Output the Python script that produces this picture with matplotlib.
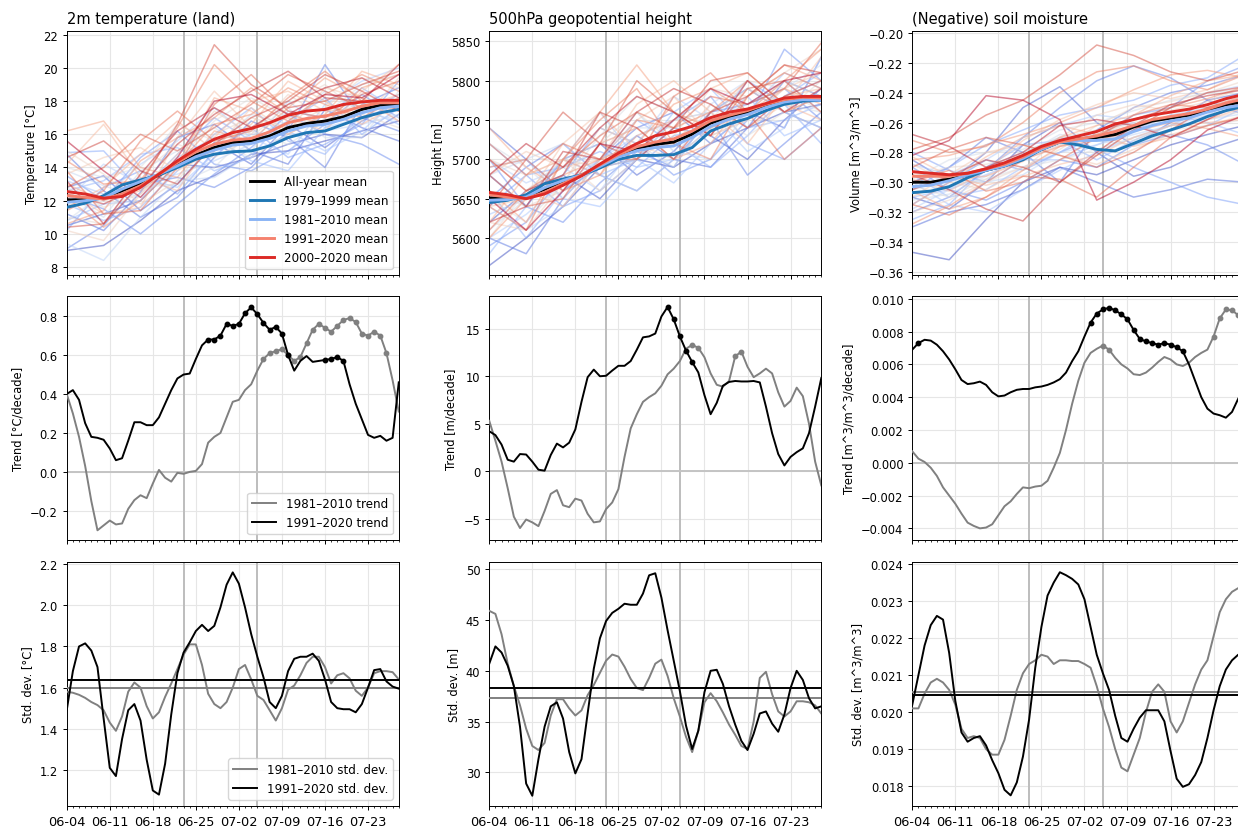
import datetime as dt
import numpy as np
import matplotlib
matplotlib.use("Agg")
import matplotlib.pyplot as plt
from matplotlib.ticker import MultipleLocator, FuncFormatter

# ---------------------------------------------------------------- data
start_date = dt.date(2021, 6, 4)
days = np.arange(55)              # daily values, 06-04 .. 07-28
days_mean = np.arange(0, 55, 3)   # climatological means, every 3rd day
days_year = np.arange(0, 55, 6)   # individual years, every 6th day
years = np.arange(1979, 2021)
marked_days = [19, 31]            # 06-23 and 07-05

# --- 2m temperature (land), individual years [°C]
t2m_years = [
    [9.0, 9.3, 10.8, 12.6, 13.5, 14.8, 15.0, 15.6, 16.2, 16.8],
    [10.5, 11.2, 12.0, 14.2, 14.0, 14.6, 15.4, 16.0, 15.8, 17.2],
    [12.8, 13.5, 11.4, 13.0, 15.5, 14.2, 16.6, 15.2, 16.8, 18.0],
    [11.2, 10.2, 12.5, 15.8, 16.6, 15.0, 14.2, 17.5, 16.4, 15.6],
    [14.8, 12.6, 11.0, 12.2, 14.6, 16.8, 15.8, 14.0, 17.8, 18.8],
    [9.1, 10.5, 13.0, 13.4, 12.8, 14.0, 16.2, 20.2, 17.0, 16.2],
    [12.3, 11.5, 10.0, 11.8, 13.6, 15.2, 17.2, 16.0, 15.4, 14.2],
    [13.5, 12.0, 14.6, 16.2, 14.2, 13.8, 15.0, 16.6, 18.4, 17.0],
    [10.2, 12.8, 13.8, 12.4, 15.0, 16.4, 14.6, 15.4, 16.6, 19.2],
    [14.9, 15.0, 12.6, 14.8, 17.0, 15.6, 16.8, 18.2, 16.0, 17.6],
    [11.8, 10.8, 11.6, 13.8, 16.0, 17.6, 15.6, 14.8, 17.2, 18.4],
    [12.6, 13.2, 14.8, 15.2, 13.8, 14.6, 17.4, 17.0, 18.8, 17.4],
    [10.8, 11.8, 12.0, 14.6, 15.8, 14.4, 13.8, 16.4, 17.6, 16.6],
    [13.2, 12.4, 13.4, 12.8, 14.8, 16.0, 16.2, 15.0, 16.2, 18.2],
    [11.5, 12.2, 14.2, 15.6, 17.6, 15.8, 14.8, 17.8, 19.2, 20.0],
    [12.0, 14.2, 13.0, 13.6, 14.4, 15.4, 18.0, 16.4, 17.0, 17.8],
    [9.4, 8.4, 11.0, 13.2, 13.4, 14.8, 16.0, 16.2, 16.6, 17.2],
    [13.8, 12.9, 12.2, 14.0, 15.2, 17.2, 16.6, 18.6, 17.4, 16.8],
    [12.4, 11.0, 13.8, 15.0, 16.4, 15.0, 17.6, 15.8, 15.8, 18.6],
    [10.8, 12.4, 12.8, 13.0, 14.0, 16.2, 15.4, 16.8, 18.0, 17.0],
    [14.0, 13.4, 14.0, 16.6, 15.6, 14.6, 16.0, 17.2, 19.0, 19.6],
    [12.8, 11.6, 12.4, 14.4, 16.8, 18.2, 17.0, 16.6, 17.8, 18.0],
    [11.0, 10.6, 13.6, 15.4, 14.6, 15.8, 17.8, 19.0, 17.2, 16.4],
    [15.0, 13.6, 11.8, 13.2, 16.0, 17.0, 16.4, 17.6, 19.4, 18.8],
    [10.2, 9.6, 12.4, 14.8, 17.4, 16.0, 18.4, 17.0, 16.8, 19.4],
    [13.6, 14.6, 15.2, 13.8, 15.0, 17.6, 16.2, 18.8, 18.2, 17.4],
    [12.6, 11.2, 11.6, 15.8, 18.6, 16.4, 17.0, 16.2, 18.6, 20.2],
    [14.2, 16.6, 13.4, 12.6, 15.8, 18.0, 18.6, 17.4, 17.6, 18.4],
    [11.6, 12.8, 14.8, 16.8, 15.0, 16.6, 19.2, 18.0, 16.6, 17.8],
    [13.0, 12.0, 12.6, 14.2, 18.2, 17.4, 16.0, 17.2, 19.8, 19.0],
    [16.2, 16.8, 14.0, 13.4, 16.2, 15.6, 17.6, 19.4, 18.2, 16.8],
    [10.6, 11.4, 14.4, 15.8, 17.0, 18.8, 17.2, 16.6, 18.8, 19.6],
    [12.2, 10.4, 12.0, 14.2, 16.6, 17.2, 18.8, 17.8, 17.0, 18.2],
    [14.4, 13.0, 13.2, 16.4, 20.2, 18.0, 16.8, 18.4, 19.6, 18.6],
    [11.4, 12.6, 15.6, 17.4, 15.6, 16.2, 18.2, 19.8, 18.0, 17.6],
    [13.8, 11.2, 11.4, 14.0, 17.8, 19.6, 17.4, 17.0, 18.4, 19.2],
    [12.8, 14.0, 16.0, 15.0, 16.4, 17.8, 19.6, 18.6, 17.6, 18.0],
    [10.4, 10.6, 13.0, 16.6, 21.4, 19.0, 17.6, 18.0, 19.0, 19.8],
    [14.6, 15.6, 13.8, 13.0, 15.4, 17.0, 18.0, 19.6, 18.6, 17.4],
    [12.4, 11.8, 12.8, 15.4, 17.2, 18.6, 19.8, 18.2, 18.0, 20.2],
    [13.2, 10.6, 13.6, 16.2, 17.6, 16.4, 17.8, 18.8, 19.4, 18.2],
    [15.6, 13.8, 12.2, 14.6, 18.0, 18.4, 17.2, 18.4, 18.2, 19.6],
]
t2m_mean_all = [12.05, 12.05, 12.15, 12.6, 13.05, 13.55, 14.15, 14.75, 15.2, 15.5,
                15.6, 15.9, 16.4, 16.65, 16.8, 17.05, 17.5, 17.75, 17.75]
t2m_mean_7999 = [11.6, 11.85, 12.3, 12.95, 13.25, 13.55, 14.0, 14.5, 14.8, 14.95,
                 15.0, 15.3, 15.8, 16.1, 16.2, 16.6, 17.0, 17.3, 17.5]
t2m_mean_8110 = [11.9, 12.0, 12.15, 12.7, 13.15, 13.6, 14.1, 14.65, 15.05, 15.35,
                 15.45, 15.75, 16.2, 16.5, 16.6, 16.9, 17.3, 17.6, 17.7]
t2m_mean_9120 = [12.3, 12.2, 12.1, 12.4, 12.9, 13.6, 14.3, 14.95, 15.4, 15.65,
                 15.75, 16.15, 16.7, 16.95, 17.1, 17.35, 17.7, 17.9, 17.9]
t2m_mean_0020 = [12.55, 12.4, 12.15, 12.25, 12.8, 13.6, 14.4, 15.1, 15.7, 16.1,
                 16.35, 16.7, 17.15, 17.4, 17.5, 17.8, 17.95, 18.05, 18.05]

# --- 500hPa geopotential height, individual years [m]
z500_years = [
    [5565, 5600, 5640, 5690, 5700, 5690, 5720, 5740, 5760, 5770],
    [5620, 5660, 5680, 5650, 5700, 5740, 5730, 5700, 5750, 5790],
    [5680, 5640, 5700, 5720, 5680, 5710, 5760, 5790, 5760, 5740],
    [5740, 5700, 5660, 5690, 5730, 5700, 5690, 5740, 5800, 5780],
    [5600, 5580, 5650, 5700, 5740, 5760, 5720, 5760, 5740, 5830],
    [5650, 5690, 5720, 5680, 5660, 5700, 5750, 5680, 5720, 5760],
    [5700, 5640, 5620, 5670, 5710, 5690, 5760, 5770, 5790, 5750],
    [5590, 5620, 5680, 5740, 5720, 5680, 5700, 5750, 5840, 5800],
    [5640, 5680, 5640, 5660, 5700, 5750, 5780, 5720, 5700, 5740],
    [5720, 5680, 5690, 5710, 5690, 5730, 5740, 5800, 5770, 5720],
    [5660, 5600, 5660, 5700, 5750, 5720, 5690, 5730, 5780, 5810],
    [5580, 5640, 5700, 5680, 5700, 5760, 5790, 5740, 5750, 5770],
    [5690, 5700, 5650, 5640, 5690, 5700, 5740, 5780, 5730, 5750],
    [5630, 5650, 5700, 5760, 5700, 5670, 5720, 5760, 5810, 5790],
    [5600, 5630, 5670, 5700, 5730, 5750, 5760, 5710, 5740, 5830],
    [5700, 5670, 5690, 5660, 5720, 5780, 5750, 5770, 5800, 5760],
    [5640, 5610, 5640, 5700, 5760, 5710, 5700, 5760, 5780, 5800],
    [5680, 5700, 5720, 5680, 5660, 5700, 5770, 5800, 5760, 5740],
    [5610, 5650, 5700, 5720, 5740, 5740, 5730, 5750, 5790, 5820],
    [5720, 5690, 5650, 5700, 5720, 5690, 5760, 5790, 5770, 5760],
    [5650, 5620, 5670, 5730, 5780, 5760, 5740, 5760, 5800, 5780],
    [5600, 5660, 5700, 5690, 5700, 5750, 5760, 5730, 5760, 5800],
    [5660, 5640, 5660, 5720, 5760, 5720, 5750, 5800, 5790, 5760],
    [5700, 5680, 5700, 5660, 5700, 5730, 5790, 5780, 5810, 5840],
    [5620, 5610, 5670, 5740, 5720, 5700, 5740, 5790, 5760, 5780],
    [5680, 5710, 5690, 5700, 5750, 5780, 5730, 5750, 5790, 5810],
    [5640, 5650, 5720, 5760, 5710, 5720, 5770, 5740, 5770, 5830],
    [5700, 5660, 5640, 5700, 5770, 5800, 5760, 5720, 5780, 5790],
    [5620, 5680, 5700, 5680, 5730, 5750, 5790, 5810, 5770, 5750],
    [5740, 5690, 5660, 5720, 5740, 5700, 5720, 5780, 5820, 5800],
    [5660, 5620, 5700, 5760, 5820, 5760, 5740, 5760, 5790, 5770],
    [5600, 5650, 5680, 5700, 5720, 5770, 5790, 5760, 5800, 5840],
    [5690, 5700, 5660, 5680, 5750, 5740, 5760, 5800, 5760, 5780],
    [5640, 5610, 5700, 5750, 5790, 5720, 5700, 5780, 5810, 5790],
    [5720, 5680, 5720, 5700, 5700, 5780, 5810, 5760, 5700, 5740],
    [5610, 5660, 5690, 5730, 5760, 5740, 5780, 5770, 5790, 5848],
    [5680, 5640, 5650, 5720, 5800, 5760, 5730, 5790, 5800, 5760],
    [5640, 5700, 5760, 5720, 5700, 5740, 5800, 5810, 5770, 5780],
    [5700, 5660, 5680, 5760, 5740, 5700, 5760, 5780, 5820, 5810],
    [5620, 5640, 5710, 5700, 5760, 5790, 5770, 5740, 5780, 5800],
    [5680, 5720, 5690, 5740, 5780, 5760, 5730, 5800, 5760, 5790],
    [5650, 5610, 5660, 5720, 5710, 5750, 5790, 5770, 5800, 5810],
]
z500_mean_all = [5651, 5650, 5652, 5662, 5672, 5680, 5692, 5705, 5714, 5719,
                 5722, 5732, 5746, 5754, 5760, 5768, 5775, 5778, 5777]
z500_mean_7999 = [5645, 5648, 5655, 5669, 5675, 5680, 5689, 5700, 5705, 5705,
                  5706, 5715, 5736, 5745, 5752, 5762, 5770, 5774, 5775]
z500_mean_8110 = [5648, 5649, 5652, 5664, 5673, 5680, 5691, 5703, 5711, 5715,
                  5717, 5728, 5742, 5751, 5757, 5766, 5773, 5776, 5775]
z500_mean_9120 = [5655, 5652, 5650, 5658, 5669, 5680, 5693, 5706, 5716, 5722,
                  5726, 5736, 5749, 5756, 5762, 5770, 5776, 5779, 5778]
z500_mean_0020 = [5658, 5655, 5650, 5656, 5667, 5679, 5694, 5708, 5720, 5730,
                  5735, 5742, 5753, 5760, 5764, 5771, 5778, 5780, 5780]

# --- (negative) soil moisture, individual years [m^3/m^3]
swvl_years = [
    [-0.347, -0.352, -0.325, -0.300, -0.290, -0.295, -0.285, -0.275, -0.268, -0.262],
    [-0.310, -0.318, -0.300, -0.275, -0.260, -0.280, -0.296, -0.290, -0.278, -0.270],
    [-0.285, -0.300, -0.280, -0.250, -0.236, -0.260, -0.275, -0.260, -0.245, -0.240],
    [-0.330, -0.320, -0.315, -0.305, -0.290, -0.300, -0.310, -0.305, -0.298, -0.300],
    [-0.300, -0.290, -0.270, -0.280, -0.300, -0.265, -0.250, -0.240, -0.235, -0.228],
    [-0.320, -0.310, -0.292, -0.270, -0.250, -0.232, -0.222, -0.230, -0.245, -0.255],
    [-0.290, -0.305, -0.312, -0.300, -0.285, -0.290, -0.275, -0.268, -0.275, -0.288],
    [-0.315, -0.300, -0.285, -0.292, -0.280, -0.270, -0.255, -0.250, -0.232, -0.222],
    [-0.280, -0.292, -0.300, -0.285, -0.270, -0.278, -0.290, -0.300, -0.310, -0.315],
    [-0.305, -0.290, -0.275, -0.265, -0.255, -0.250, -0.245, -0.235, -0.230, -0.215],
    [-0.325, -0.315, -0.290, -0.275, -0.272, -0.285, -0.272, -0.262, -0.250, -0.248],
    [-0.295, -0.310, -0.305, -0.290, -0.280, -0.265, -0.260, -0.270, -0.262, -0.250],
    [-0.310, -0.305, -0.295, -0.285, -0.285, -0.275, -0.265, -0.255, -0.260, -0.268],
    [-0.300, -0.315, -0.320, -0.305, -0.292, -0.280, -0.270, -0.262, -0.255, -0.242],
    [-0.288, -0.295, -0.285, -0.270, -0.262, -0.255, -0.258, -0.250, -0.240, -0.235],
    [-0.318, -0.305, -0.290, -0.280, -0.270, -0.272, -0.265, -0.255, -0.250, -0.245],
    [-0.305, -0.298, -0.300, -0.295, -0.280, -0.275, -0.268, -0.262, -0.258, -0.254],
    [-0.292, -0.300, -0.292, -0.285, -0.275, -0.268, -0.262, -0.258, -0.252, -0.248],
    [-0.312, -0.308, -0.296, -0.282, -0.268, -0.272, -0.275, -0.266, -0.256, -0.250],
    [-0.298, -0.285, -0.280, -0.278, -0.265, -0.260, -0.252, -0.245, -0.240, -0.238],
    [-0.308, -0.302, -0.298, -0.290, -0.285, -0.278, -0.270, -0.265, -0.262, -0.258],
    [-0.302, -0.310, -0.298, -0.280, -0.270, -0.265, -0.272, -0.262, -0.250, -0.240],
    [-0.296, -0.290, -0.288, -0.282, -0.275, -0.268, -0.260, -0.256, -0.258, -0.252],
    [-0.320, -0.312, -0.300, -0.290, -0.278, -0.262, -0.250, -0.246, -0.240, -0.232],
    [-0.288, -0.300, -0.305, -0.292, -0.270, -0.255, -0.248, -0.252, -0.246, -0.236],
    [-0.310, -0.295, -0.280, -0.275, -0.282, -0.288, -0.278, -0.268, -0.262, -0.255],
    [-0.298, -0.306, -0.292, -0.272, -0.258, -0.248, -0.240, -0.244, -0.238, -0.226],
    [-0.283, -0.296, -0.302, -0.296, -0.288, -0.282, -0.270, -0.262, -0.260, -0.258],
    [-0.315, -0.300, -0.283, -0.270, -0.262, -0.268, -0.276, -0.270, -0.258, -0.250],
    [-0.292, -0.298, -0.296, -0.286, -0.270, -0.262, -0.255, -0.242, -0.232, -0.228],
    [-0.306, -0.318, -0.310, -0.292, -0.276, -0.272, -0.266, -0.260, -0.264, -0.270],
    [-0.285, -0.282, -0.275, -0.268, -0.260, -0.250, -0.238, -0.228, -0.225, -0.230],
    [-0.328, -0.316, -0.300, -0.285, -0.276, -0.268, -0.258, -0.250, -0.244, -0.236],
    [-0.272, -0.280, -0.276, -0.260, -0.240, -0.226, -0.222, -0.232, -0.238, -0.228],
    [-0.300, -0.292, -0.306, -0.300, -0.285, -0.270, -0.255, -0.248, -0.250, -0.242],
    [-0.315, -0.322, -0.310, -0.296, -0.298, -0.310, -0.290, -0.270, -0.262, -0.256],
    [-0.290, -0.278, -0.270, -0.275, -0.282, -0.290, -0.280, -0.265, -0.250, -0.244],
    [-0.278, -0.270, -0.255, -0.245, -0.228, -0.208, -0.215, -0.226, -0.232, -0.225],
    [-0.305, -0.296, -0.285, -0.290, -0.300, -0.282, -0.265, -0.250, -0.240, -0.236],
    [-0.295, -0.305, -0.318, -0.326, -0.300, -0.280, -0.262, -0.248, -0.242, -0.238],
    [-0.268, -0.276, -0.290, -0.280, -0.262, -0.258, -0.262, -0.270, -0.258, -0.246],
    [-0.282, -0.272, -0.242, -0.245, -0.258, -0.312, -0.300, -0.285, -0.265, -0.255],
]
swvl_mean_all = [-0.300, -0.300, -0.298, -0.295, -0.292, -0.289, -0.284, -0.278, -0.273, -0.271,
                 -0.270, -0.268, -0.263, -0.259, -0.257, -0.255, -0.252, -0.248, -0.246]
swvl_mean_7999 = [-0.307, -0.306, -0.303, -0.297, -0.292, -0.289, -0.285, -0.278, -0.273, -0.275,
                  -0.278, -0.279, -0.274, -0.269, -0.265, -0.261, -0.256, -0.252, -0.249]
swvl_mean_8110 = [-0.303, -0.302, -0.299, -0.295, -0.292, -0.289, -0.284, -0.278, -0.273, -0.272,
                  -0.272, -0.271, -0.266, -0.262, -0.259, -0.257, -0.253, -0.250, -0.248]
swvl_mean_9120 = [-0.296, -0.296, -0.296, -0.294, -0.291, -0.288, -0.283, -0.277, -0.273, -0.271,
                  -0.269, -0.266, -0.262, -0.258, -0.256, -0.254, -0.251, -0.247, -0.244]
swvl_mean_0020 = [-0.293, -0.294, -0.295, -0.294, -0.291, -0.287, -0.282, -0.276, -0.272, -0.269,
                  -0.266, -0.261, -0.258, -0.255, -0.253, -0.251, -0.248, -0.244, -0.241]

# --- linear trends per decade
t2m_trend_8110 = [0.40, 0.30, 0.18, 0.03, -0.15, -0.30, -0.275, -0.25, -0.27, -0.265,
                  -0.19, -0.145, -0.12, -0.135, -0.06, 0.01, -0.03, -0.05, -0.005, -0.01,
                  0.0, 0.005, 0.04, 0.15, 0.18, 0.20, 0.28, 0.36, 0.37, 0.42,
                  0.45, 0.52, 0.58, 0.61, 0.62, 0.63, 0.60, 0.57, 0.59, 0.66,
                  0.73, 0.76, 0.74, 0.72, 0.75, 0.78, 0.79, 0.77, 0.71, 0.70,
                  0.72, 0.70, 0.61, 0.47, 0.31]
t2m_trend_9120 = [0.40, 0.42, 0.37, 0.25, 0.18, 0.175, 0.165, 0.12, 0.06, 0.07,
                  0.16, 0.255, 0.255, 0.24, 0.24, 0.28, 0.35, 0.42, 0.48, 0.50,
                  0.505, 0.58, 0.65, 0.68, 0.68, 0.70, 0.76, 0.75, 0.76, 0.815,
                  0.845, 0.81, 0.765, 0.73, 0.745, 0.71, 0.60, 0.52, 0.57, 0.595,
                  0.565, 0.57, 0.575, 0.58, 0.59, 0.57, 0.45, 0.35, 0.27, 0.19,
                  0.175, 0.185, 0.16, 0.175, 0.46]
t2m_sig_8110 = list(range(32, 53))
t2m_sig_9120 = list(range(23, 37)) + [42, 43, 44, 45]

z500_trend_8110 = [5.3, 3.2, 1.0, -1.8, -4.8, -6.0, -5.1, -5.4, -5.8, -4.2,
                   -2.4, -2.0, -3.6, -3.8, -2.9, -3.1, -4.5, -5.4, -5.3, -4.0,
                   -3.3, -1.9, 1.5, 4.5, 6.0, 7.3, 7.8, 8.2, 9.0, 10.2,
                   10.8, 11.6, 12.9, 13.3, 13.0, 12.0, 10.3, 9.1, 8.9, 9.5,
                   12.1, 12.6, 11.0, 9.9, 10.3, 10.8, 10.3, 8.3, 6.8, 7.4,
                   8.8, 7.9, 5.0, 1.0, -1.5]
z500_trend_9120 = [4.2, 3.8, 2.8, 1.2, 1.0, 1.8, 1.75, 1.0, 0.15, 0.05,
                   1.7, 2.9, 2.5, 3.0, 4.4, 7.3, 9.9, 10.7, 10.0, 10.05,
                   10.6, 11.1, 11.1, 11.6, 12.8, 14.1, 14.2, 14.5, 16.3, 17.3,
                   16.0, 14.2, 12.7, 11.5, 10.4, 8.0, 6.0, 7.2, 9.0, 9.4,
                   9.5, 9.45, 9.45, 9.5, 9.35, 6.8, 4.0, 1.8, 0.6, 1.5,
                   2.0, 2.4, 4.0, 6.8, 9.8]
z500_sig_8110 = [33, 34, 40, 41]
z500_sig_9120 = [29, 30, 31, 32, 33]

swvl_trend_8110 = [0.0007, 0.00025, 0.00005, -0.0003, -0.0008, -0.0015, -0.0020, -0.0025, -0.0031, -0.00365,
                   -0.00385, -0.0040, -0.00395, -0.00375, -0.0032, -0.00265, -0.00235, -0.0019, -0.0015, -0.00155,
                   -0.00145, -0.0014, -0.0011, -0.0003, 0.0006, 0.0020, 0.0036, 0.0050, 0.0061, 0.0067,
                   0.00695, 0.00715, 0.0069, 0.0064, 0.0060, 0.00575, 0.0054, 0.00535, 0.0055, 0.0058,
                   0.00615, 0.00645, 0.0063, 0.0060, 0.0059, 0.0061, 0.00645, 0.0067, 0.0069, 0.0077,
                   0.0088, 0.00935, 0.0093, 0.0090, 0.0085]
swvl_trend_9120 = [0.0069, 0.0073, 0.0075, 0.00745, 0.0072, 0.0068, 0.0063, 0.0057, 0.00505, 0.0048,
                   0.00485, 0.00495, 0.00475, 0.0043, 0.00405, 0.0041, 0.0043, 0.00445, 0.0045, 0.0045,
                   0.0046, 0.00465, 0.00475, 0.0049, 0.0051, 0.0055, 0.0062, 0.0068, 0.0077, 0.00855,
                   0.0091, 0.00935, 0.00945, 0.0093, 0.00905, 0.00875, 0.0081, 0.00755, 0.0074, 0.0073,
                   0.0072, 0.0073, 0.0072, 0.00705, 0.0068, 0.0060, 0.0050, 0.0040, 0.0033, 0.0030,
                   0.0029, 0.00275, 0.0031, 0.0039, 0.0046]
swvl_sig_8110 = [31, 32, 49, 50, 51, 52, 53, 54]
swvl_sig_9120 = [1] + list(range(29, 45))

# --- standard deviations
t2m_std_8110 = [1.58, 1.575, 1.565, 1.55, 1.53, 1.515, 1.49, 1.43, 1.39, 1.46,
                1.58, 1.625, 1.60, 1.51, 1.45, 1.48, 1.555, 1.62, 1.69, 1.76,
                1.81, 1.81, 1.71, 1.57, 1.52, 1.50, 1.53, 1.60, 1.69, 1.71,
                1.64, 1.56, 1.54, 1.49, 1.44, 1.50, 1.59, 1.61, 1.66, 1.72,
                1.75, 1.75, 1.70, 1.62, 1.66, 1.67, 1.645, 1.585, 1.56, 1.60,
                1.67, 1.68, 1.68, 1.675, 1.64]
t2m_std_9120 = [1.49, 1.68, 1.80, 1.815, 1.78, 1.70, 1.45, 1.21, 1.17, 1.35,
                1.49, 1.52, 1.44, 1.25, 1.10, 1.08, 1.23, 1.47, 1.67, 1.77,
                1.82, 1.875, 1.905, 1.875, 1.90, 1.99, 2.10, 2.16, 2.105, 1.99,
                1.86, 1.75, 1.65, 1.53, 1.50, 1.56, 1.68, 1.74, 1.75, 1.75,
                1.765, 1.73, 1.64, 1.53, 1.50, 1.495, 1.495, 1.48, 1.52, 1.60,
                1.685, 1.69, 1.63, 1.605, 1.595]
t2m_std_all = [1.597, 1.635]

z500_std_8110 = [45.9, 45.6, 43.6, 40.7, 38.5, 36.6, 34.3, 32.6, 32.2, 32.9,
                 35.6, 37.2, 37.2, 36.3, 35.6, 36.1, 37.6, 38.6, 39.8, 41.0,
                 41.6, 41.4, 40.4, 39.2, 38.3, 38.1, 39.3, 40.7, 41.1, 39.5,
                 37.3, 35.5, 33.5, 32.0, 34.1, 36.9, 37.8, 37.0, 35.9, 34.7,
                 33.7, 32.6, 32.3, 35.0, 39.3, 39.9, 37.7, 36.0, 35.5, 36.0,
                 37.0, 37.0, 36.9, 36.6, 35.8]
z500_std_9120 = [40.7, 42.4, 41.8, 40.5, 38.5, 34.5, 28.9, 27.7, 31.3, 34.5,
                 36.5, 36.9, 35.3, 32.0, 29.9, 31.3, 35.8, 40.2, 43.2, 44.9,
                 45.7, 46.1, 46.6, 46.5, 46.5, 47.6, 49.4, 49.6, 47.2, 44.0,
                 41.0, 38.0, 34.6, 32.3, 34.1, 37.9, 40.0, 40.1, 38.7, 36.5,
                 34.7, 33.1, 32.2, 33.8, 35.8, 36.0, 34.8, 34.0, 35.7, 38.3,
                 40.0, 39.1, 37.3, 36.3, 36.5]
z500_std_all = [37.35, 38.3]

swvl_std_8110 = [0.0201, 0.0201, 0.0205, 0.0208, 0.0209, 0.0208, 0.0206, 0.0202, 0.01955, 0.0193,
                 0.01935, 0.0193, 0.0190, 0.01885, 0.01885, 0.01925, 0.0199, 0.0206, 0.02105, 0.0213,
                 0.0214, 0.02155, 0.0215, 0.0213, 0.0214, 0.0214, 0.02138, 0.02138, 0.0213, 0.0212,
                 0.0207, 0.0201, 0.0196, 0.0190, 0.0185, 0.0184, 0.01885, 0.0193, 0.0200, 0.02055,
                 0.02075, 0.02055, 0.01975, 0.01945, 0.01975, 0.02025, 0.02075, 0.02115, 0.0214, 0.02205,
                 0.0227, 0.02305, 0.02325, 0.02335, 0.0234]
swvl_std_9120 = [0.0202, 0.0210, 0.0218, 0.02235, 0.0226, 0.0225, 0.0216, 0.0203, 0.01945, 0.0192,
                 0.0193, 0.01935, 0.0191, 0.0187, 0.01835, 0.0179, 0.01775, 0.0181, 0.0188, 0.0198,
                 0.0212, 0.0223, 0.02315, 0.0235, 0.02378, 0.0237, 0.0236, 0.02345, 0.02305, 0.0223,
                 0.02155, 0.02105, 0.0206, 0.0199, 0.0193, 0.0192, 0.01955, 0.01985, 0.02005, 0.02005,
                 0.02005, 0.01975, 0.01895, 0.0182, 0.01798, 0.01805, 0.0183, 0.01865, 0.0193, 0.02005,
                 0.0207, 0.02115, 0.0214, 0.02155, 0.0216]
swvl_std_all = [0.02055, 0.02045]

mean_labels = ["All-year mean", "1979\u20131999 mean", "1981\u20132010 mean",
               "1991\u20132020 mean", "2000\u20132020 mean"]
mean_colors = ["black", "#1f77b4", "#8ab4f5", "#f5826e", "#dc2a26"]

# ---------------------------------------------------------------- style
plt.rcParams.update({
    "font.family": "DejaVu Sans",
    "font.size": 8.3,
    "axes.titlesize": 10.5,
    "axes.labelsize": 8.3,
    "xtick.labelsize": 9.3,
    "ytick.labelsize": 8.3,
    "legend.fontsize": 8.6,
    "axes.linewidth": 0.7,
    "xtick.major.width": 0.7,
    "ytick.major.width": 0.7,
    "xtick.minor.width": 0.55,
    "xtick.major.size": 2.9,
    "ytick.major.size": 2.9,
    "xtick.minor.size": 1.7,
    "lines.linewidth": 1.25,
})

fig = plt.figure(figsize=(12.38, 8.28), dpi=100)
col_left = [0.0539, 0.3952, 0.7369]
row_bottom = [0.6667, 0.3466, 0.0257]
ax_w, ax_h = 0.2682, 0.2945
axes = [[fig.add_axes([col_left[c], row_bottom[r], ax_w, ax_h]) for c in range(3)]
        for r in range(3)]


def date_label(v, pos):
    return (start_date + dt.timedelta(days=int(round(v)))).strftime("%m-%d")


for r in range(3):
    for c in range(3):
        ax = axes[r][c]
        ax.set_xlim(0, 54)
        ax.xaxis.set_major_locator(MultipleLocator(7))
        ax.xaxis.set_minor_locator(MultipleLocator(1))
        if r == 2:
            ax.xaxis.set_major_formatter(FuncFormatter(date_label))
        else:
            ax.tick_params(axis="x", labelbottom=False)
        ax.grid(True, which="major", color="#e6e6e6", lw=0.8, zorder=0)
        ax.set_axisbelow(True)
        for d in marked_days:
            ax.axvline(d, color="#bdbdbd", lw=1.4, zorder=1)

# ---------------------------------------------------------------- row 1
row1 = [
    ("2m temperature (land)", "Temperature [\u00b0C]", t2m_years,
     [t2m_mean_all, t2m_mean_7999, t2m_mean_8110, t2m_mean_9120, t2m_mean_0020], (7.52, 22.22)),
    ("500hPa geopotential height", "Height [m]", z500_years,
     [z500_mean_all, z500_mean_7999, z500_mean_8110, z500_mean_9120, z500_mean_0020], (5553, 5863)),
    ("(Negative) soil moisture", "Volume [m^3/m^3]", swvl_years,
     [swvl_mean_all, swvl_mean_7999, swvl_mean_8110, swvl_mean_9120, swvl_mean_0020], (-0.3622, -0.1987)),
]
year_colors = plt.cm.coolwarm(np.linspace(0, 1, len(years)))
for c, (title, ylabel, per_year, means, ylim) in enumerate(row1):
    ax = axes[0][c]
    for vals, col in zip(per_year, year_colors):
        ax.plot(days_year, vals, color=col, lw=1.1, alpha=0.5, zorder=2)
    for k in range(5):
        ax.plot(days_mean, means[k], color=mean_colors[k], lw=2.1,
                label=mean_labels[k], zorder=3)
    ax.set_title(title, loc="left")
    ax.set_ylabel(ylabel)
    ax.set_ylim(*ylim)
axes[0][0].legend(loc="lower right", framealpha=0.8)

# ---------------------------------------------------------------- row 2
row2 = [
    ("Trend [\u00b0C/decade]", t2m_trend_8110, t2m_trend_9120, t2m_sig_8110, t2m_sig_9120, (-0.350, 0.9026)),
    ("Trend [m/decade]", z500_trend_8110, z500_trend_9120, z500_sig_8110, z500_sig_9120, (-7.26, 18.44)),
    ("Trend [m^3/m^3/decade]", swvl_trend_8110, swvl_trend_9120, swvl_sig_8110, swvl_sig_9120, (-0.00471, 0.01016)),
]
for c, (ylabel, tr_a, tr_b, sig_a, sig_b, ylim) in enumerate(row2):
    ax = axes[1][c]
    ax.axhline(0, color="#c4c4c4", lw=1.4, zorder=1)
    tr_a = np.asarray(tr_a)
    tr_b = np.asarray(tr_b)
    ax.plot(days, tr_a, color="gray", lw=1.4, label="1981\u20132010 trend", zorder=3)
    ax.plot(days, tr_b, color="black", lw=1.4, label="1991\u20132020 trend", zorder=4)
    ax.plot(days[sig_a], tr_a[sig_a], ls="none", marker="o", ms=3.2, color="gray", zorder=3)
    ax.plot(days[sig_b], tr_b[sig_b], ls="none", marker="o", ms=3.2, color="black", zorder=4)
    ax.set_ylabel(ylabel)
    ax.set_ylim(*ylim)
axes[1][0].legend(loc="lower right", framealpha=0.8)

# ---------------------------------------------------------------- row 3
row3 = [
    ("Std. dev. [\u00b0C]", t2m_std_8110, t2m_std_9120, t2m_std_all, (1.026, 2.211)),
    ("Std. dev. [m]", z500_std_8110, z500_std_9120, z500_std_all, (26.72, 50.72)),
    ("Std. dev. [m^3/m^3]", swvl_std_8110, swvl_std_9120, swvl_std_all, (0.01747, 0.02406)),
]
for c, (ylabel, sd_a, sd_b, sd_all, ylim) in enumerate(row3):
    ax = axes[2][c]
    ax.plot(days, sd_a, color="gray", lw=1.4, label="1981\u20132010 std. dev.", zorder=3)
    ax.plot(days, sd_b, color="black", lw=1.4, label="1991\u20132020 std. dev.", zorder=4)
    ax.axhline(sd_all[0], color="gray", lw=1.4, zorder=3)
    ax.axhline(sd_all[1], color="black", lw=1.4, zorder=4)
    ax.set_ylabel(ylabel)
    ax.set_ylim(*ylim)
axes[2][0].legend(loc="lower right", framealpha=0.8)

fig.savefig("out.png", dpi=100)
